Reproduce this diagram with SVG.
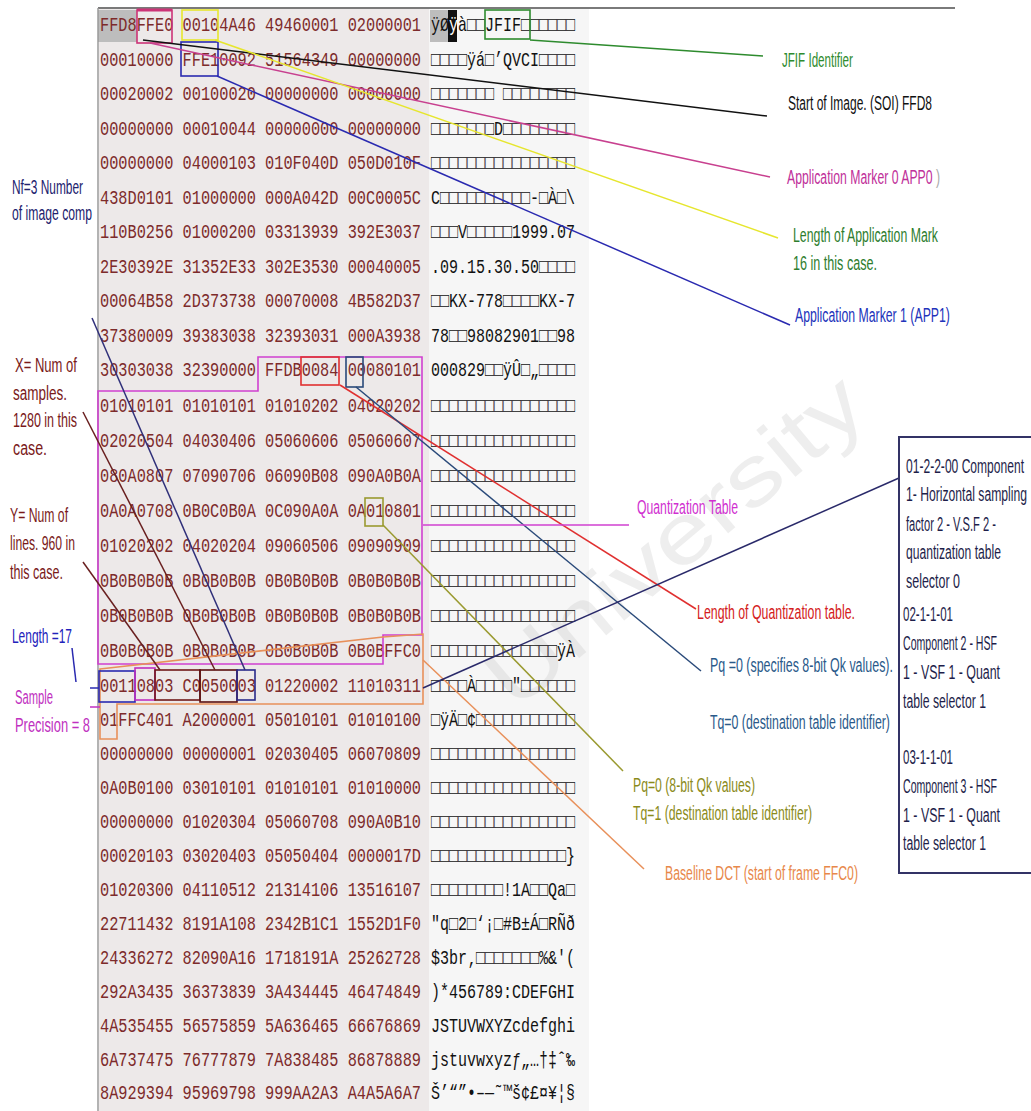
<svg xmlns="http://www.w3.org/2000/svg" width="1031" height="1111" viewBox="0 0 1031 1111">
<style>
.hx{font-family:"Liberation Mono","DejaVu Sans Mono",monospace;font-size:20px;fill:#7d2b2b}
.as{font-family:"Liberation Mono","DejaVu Sans Mono",monospace;font-size:20px;fill:#111}
.lb{font-family:"Liberation Sans","Arial",sans-serif;font-size:20px}
.bx{font-family:"Liberation Sans","Arial",sans-serif;font-size:20px;fill:#1e1e4a}
.mk{fill:none;stroke-width:1.6}
.ln{fill:none;stroke-width:1.5}
.wm{font-family:"Liberation Sans","Arial",sans-serif;font-size:84px;fill:#c8c8c8;opacity:0.3}
</style>
<rect x="0" y="0" width="1031" height="1111" fill="#ffffff"/>
<g id="dump-background">
<rect x="99" y="9" width="330" height="1102" fill="#ede9e9"/>
<rect x="429" y="9" width="160" height="1102" fill="#f6f6f6"/>
<rect x="98" y="10" width="39" height="32" fill="#bdbdbd"/>
<rect x="430" y="10" width="18" height="32" fill="#bdbdbd"/>
<rect x="448" y="10" width="9" height="32" fill="#111"/>
<line x1="98" y1="8" x2="955" y2="8" stroke="#7a7a7a" stroke-width="2"/>
<line x1="98" y1="8" x2="98" y2="1111" stroke="#9a9a9a" stroke-width="1.5"/>
</g>
<g id="watermark">
<text class="wm" transform="translate(515,712) rotate(-40)" textLength="465" lengthAdjust="spacingAndGlyphs">University</text>
</g>
<g id="hex-column">
<text class="hx" transform="scale(0.7643,1)" x="130.84" y="31.5" textLength="420" lengthAdjust="spacingAndGlyphs">FFD8FFE0 00104A46 49460001 02000001</text>
<text class="hx" transform="scale(0.7643,1)" x="130.84" y="66" textLength="420" lengthAdjust="spacingAndGlyphs">00010000 FFE10092 51564349 00000000</text>
<text class="hx" transform="scale(0.7643,1)" x="130.84" y="100.5" textLength="420" lengthAdjust="spacingAndGlyphs">00020002 00100020 00000000 00000000</text>
<text class="hx" transform="scale(0.7643,1)" x="130.84" y="135" textLength="420" lengthAdjust="spacingAndGlyphs">00000000 00010044 00000000 00000000</text>
<text class="hx" transform="scale(0.7643,1)" x="130.84" y="169.5" textLength="420" lengthAdjust="spacingAndGlyphs">00000000 04000103 010F040D 050D010F</text>
<text class="hx" transform="scale(0.7643,1)" x="130.84" y="204" textLength="420" lengthAdjust="spacingAndGlyphs">438D0101 01000000 000A042D 00C0005C</text>
<text class="hx" transform="scale(0.7643,1)" x="130.84" y="238.5" textLength="420" lengthAdjust="spacingAndGlyphs">110B0256 01000200 03313939 392E3037</text>
<text class="hx" transform="scale(0.7643,1)" x="130.84" y="273" textLength="420" lengthAdjust="spacingAndGlyphs">2E30392E 31352E33 302E3530 00040005</text>
<text class="hx" transform="scale(0.7643,1)" x="130.84" y="307.5" textLength="420" lengthAdjust="spacingAndGlyphs">00064B58 2D373738 00070008 4B582D37</text>
<text class="hx" transform="scale(0.7643,1)" x="130.84" y="342" textLength="420" lengthAdjust="spacingAndGlyphs">37380009 39383038 32393031 000A3938</text>
<text class="hx" transform="scale(0.7643,1)" x="130.84" y="376.5" textLength="420" lengthAdjust="spacingAndGlyphs">30303038 32390000 FFDB0084 00080101</text>
<text class="hx" transform="scale(0.7643,1)" x="130.84" y="411.6" textLength="420" lengthAdjust="spacingAndGlyphs">01010101 01010101 01010202 04020202</text>
<text class="hx" transform="scale(0.7643,1)" x="130.84" y="446.7" textLength="420" lengthAdjust="spacingAndGlyphs">02020504 04030406 05060606 05060607</text>
<text class="hx" transform="scale(0.7643,1)" x="130.84" y="481.8" textLength="420" lengthAdjust="spacingAndGlyphs">080A0807 07090706 06090B08 090A0B0A</text>
<text class="hx" transform="scale(0.7643,1)" x="130.84" y="516.9" textLength="420" lengthAdjust="spacingAndGlyphs">0A0A0708 0B0C0B0A 0C090A0A 0A010801</text>
<text class="hx" transform="scale(0.7643,1)" x="130.84" y="552.1" textLength="420" lengthAdjust="spacingAndGlyphs">01020202 04020204 09060506 09090909</text>
<text class="hx" transform="scale(0.7643,1)" x="130.84" y="587.2" textLength="420" lengthAdjust="spacingAndGlyphs">0B0B0B0B 0B0B0B0B 0B0B0B0B 0B0B0B0B</text>
<text class="hx" transform="scale(0.7643,1)" x="130.84" y="622.3" textLength="420" lengthAdjust="spacingAndGlyphs">0B0B0B0B 0B0B0B0B 0B0B0B0B 0B0B0B0B</text>
<text class="hx" transform="scale(0.7643,1)" x="130.84" y="657.4" textLength="420" lengthAdjust="spacingAndGlyphs">0B0B0B0B 0B0B0B0B 0B0B0B0B 0B0BFFC0</text>
<text class="hx" transform="scale(0.7643,1)" x="130.84" y="692.5" textLength="420" lengthAdjust="spacingAndGlyphs">00110803 C0050003 01220002 11010311</text>
<text class="hx" transform="scale(0.7643,1)" x="130.84" y="726.4" textLength="420" lengthAdjust="spacingAndGlyphs">01FFC401 A2000001 05010101 01010100</text>
<text class="hx" transform="scale(0.7643,1)" x="130.84" y="760.3" textLength="420" lengthAdjust="spacingAndGlyphs">00000000 00000001 02030405 06070809</text>
<text class="hx" transform="scale(0.7643,1)" x="130.84" y="794.3" textLength="420" lengthAdjust="spacingAndGlyphs">0A0B0100 03010101 01010101 01010000</text>
<text class="hx" transform="scale(0.7643,1)" x="130.84" y="828.2" textLength="420" lengthAdjust="spacingAndGlyphs">00000000 01020304 05060708 090A0B10</text>
<text class="hx" transform="scale(0.7643,1)" x="130.84" y="862.1" textLength="420" lengthAdjust="spacingAndGlyphs">00020103 03020403 05050404 0000017D</text>
<text class="hx" transform="scale(0.7643,1)" x="130.84" y="896" textLength="420" lengthAdjust="spacingAndGlyphs">01020300 04110512 21314106 13516107</text>
<text class="hx" transform="scale(0.7643,1)" x="130.84" y="929.9" textLength="420" lengthAdjust="spacingAndGlyphs">22711432 8191A108 2342B1C1 1552D1F0</text>
<text class="hx" transform="scale(0.7643,1)" x="130.84" y="963.8" textLength="420" lengthAdjust="spacingAndGlyphs">24336272 82090A16 1718191A 25262728</text>
<text class="hx" transform="scale(0.7643,1)" x="130.84" y="997.8" textLength="420" lengthAdjust="spacingAndGlyphs">292A3435 36373839 3A434445 46474849</text>
<text class="hx" transform="scale(0.7643,1)" x="130.84" y="1031.7" textLength="420" lengthAdjust="spacingAndGlyphs">4A535455 56575859 5A636465 66676869</text>
<text class="hx" transform="scale(0.7643,1)" x="130.84" y="1065.6" textLength="420" lengthAdjust="spacingAndGlyphs">6A737475 76777879 7A838485 86878889</text>
<text class="hx" transform="scale(0.7643,1)" x="130.84" y="1099.5" textLength="420" lengthAdjust="spacingAndGlyphs">8A929394 95969798 999AA2A3 A4A5A6A7</text>
</g>
<g id="ascii-column">
<text class="as" transform="scale(0.75,1)" x="574.67" y="31.5" textLength="192" lengthAdjust="spacingAndGlyphs">ÿØ<tspan style="fill:#ffffff">ÿ</tspan>à□□JFIF□□□□□□</text>
<text class="as" transform="scale(0.75,1)" x="574.67" y="66" textLength="192" lengthAdjust="spacingAndGlyphs">□□□□ÿá□’QVCI□□□□</text>
<text class="as" transform="scale(0.75,1)" x="574.67" y="100.5" textLength="192" lengthAdjust="spacingAndGlyphs">□□□□□□□ □□□□□□□□</text>
<text class="as" transform="scale(0.75,1)" x="574.67" y="135" textLength="192" lengthAdjust="spacingAndGlyphs">□□□□□□□D□□□□□□□□</text>
<text class="as" transform="scale(0.75,1)" x="574.67" y="169.5" textLength="192" lengthAdjust="spacingAndGlyphs">□□□□□□□□□□□□□□□□</text>
<text class="as" transform="scale(0.75,1)" x="574.67" y="204" textLength="192" lengthAdjust="spacingAndGlyphs">C□□□□□□□□□□-□À□\</text>
<text class="as" transform="scale(0.75,1)" x="574.67" y="238.5" textLength="192" lengthAdjust="spacingAndGlyphs">□□□V□□□□□1999.07</text>
<text class="as" transform="scale(0.75,1)" x="574.67" y="273" textLength="192" lengthAdjust="spacingAndGlyphs">.09.15.30.50□□□□</text>
<text class="as" transform="scale(0.75,1)" x="574.67" y="307.5" textLength="192" lengthAdjust="spacingAndGlyphs">□□KX-778□□□□KX-7</text>
<text class="as" transform="scale(0.75,1)" x="574.67" y="342" textLength="192" lengthAdjust="spacingAndGlyphs">78□□98082901□□98</text>
<text class="as" transform="scale(0.75,1)" x="574.67" y="376.5" textLength="192" lengthAdjust="spacingAndGlyphs">000829□□ÿÛ□„□□□□</text>
<text class="as" transform="scale(0.75,1)" x="574.67" y="411.6" textLength="192" lengthAdjust="spacingAndGlyphs">□□□□□□□□□□□□□□□□</text>
<text class="as" transform="scale(0.75,1)" x="574.67" y="446.7" textLength="192" lengthAdjust="spacingAndGlyphs">□□□□□□□□□□□□□□□□</text>
<text class="as" transform="scale(0.75,1)" x="574.67" y="481.8" textLength="192" lengthAdjust="spacingAndGlyphs">□□□□□□□□□□□□□□□□</text>
<text class="as" transform="scale(0.75,1)" x="574.67" y="516.9" textLength="192" lengthAdjust="spacingAndGlyphs">□□□□□□□□□□□□□□□□</text>
<text class="as" transform="scale(0.75,1)" x="574.67" y="552.1" textLength="192" lengthAdjust="spacingAndGlyphs">□□□□□□□□□□□□□□□□</text>
<text class="as" transform="scale(0.75,1)" x="574.67" y="587.2" textLength="192" lengthAdjust="spacingAndGlyphs">□□□□□□□□□□□□□□□□</text>
<text class="as" transform="scale(0.75,1)" x="574.67" y="622.3" textLength="192" lengthAdjust="spacingAndGlyphs">□□□□□□□□□□□□□□□□</text>
<text class="as" transform="scale(0.75,1)" x="574.67" y="657.4" textLength="192" lengthAdjust="spacingAndGlyphs">□□□□□□□□□□□□□□ÿÀ</text>
<text class="as" transform="scale(0.75,1)" x="574.67" y="692.5" textLength="192" lengthAdjust="spacingAndGlyphs">□□□□À□□□□"□□□□□□</text>
<text class="as" transform="scale(0.75,1)" x="574.67" y="726.4" textLength="192" lengthAdjust="spacingAndGlyphs">□ÿÄ□¢□□□□□□□□□□□</text>
<text class="as" transform="scale(0.75,1)" x="574.67" y="760.3" textLength="192" lengthAdjust="spacingAndGlyphs">□□□□□□□□□□□□□□□□</text>
<text class="as" transform="scale(0.75,1)" x="574.67" y="794.3" textLength="192" lengthAdjust="spacingAndGlyphs">□□□□□□□□□□□□□□□□</text>
<text class="as" transform="scale(0.75,1)" x="574.67" y="828.2" textLength="192" lengthAdjust="spacingAndGlyphs">□□□□□□□□□□□□□□□□</text>
<text class="as" transform="scale(0.75,1)" x="574.67" y="862.1" textLength="192" lengthAdjust="spacingAndGlyphs">□□□□□□□□□□□□□□□}</text>
<text class="as" transform="scale(0.75,1)" x="574.67" y="896" textLength="192" lengthAdjust="spacingAndGlyphs">□□□□□□□□!1A□□Qa□</text>
<text class="as" transform="scale(0.75,1)" x="574.67" y="929.9" textLength="192" lengthAdjust="spacingAndGlyphs">"q□2□‘¡□#B±Á□RÑð</text>
<text class="as" transform="scale(0.75,1)" x="574.67" y="963.8" textLength="192" lengthAdjust="spacingAndGlyphs">$3br‚□□□□□□□%&amp;'(</text>
<text class="as" transform="scale(0.75,1)" x="574.67" y="997.8" textLength="192" lengthAdjust="spacingAndGlyphs">)*456789:CDEFGHI</text>
<text class="as" transform="scale(0.75,1)" x="574.67" y="1031.7" textLength="192" lengthAdjust="spacingAndGlyphs">JSTUVWXYZcdefghi</text>
<text class="as" transform="scale(0.75,1)" x="574.67" y="1065.6" textLength="192" lengthAdjust="spacingAndGlyphs">jstuvwxyzƒ„…†‡ˆ‰</text>
<text class="as" transform="scale(0.75,1)" x="574.67" y="1099.5" textLength="192" lengthAdjust="spacingAndGlyphs">Š’“”•–—˜™š¢£¤¥¦§</text>
</g>
<g id="markers">
<rect id="box-app0" class="mk" x="137" y="10" width="35" height="33" stroke="#cc3377"/>
<line x1="137" y1="10" x2="172" y2="10" stroke="#cc3377" stroke-width="3"/>
<rect id="box-len" class="mk" x="182" y="10" width="36" height="30" stroke="#e6e62e"/>
<rect id="box-jfif" class="mk" x="485" y="10" width="45" height="29" stroke="#2e8b2e"/>
<rect id="box-app1" class="mk" x="181" y="42" width="37" height="34" stroke="#2a2ab0"/>
<polygon id="box-dqt" class="mk" points="98,391 258,391 258,357 422,357 422,635 383,635 383,664 98,664" stroke="#d040d0"/>
<rect id="box-lq" class="mk" x="301" y="357" width="38" height="28" stroke="#e03030"/>
<rect id="box-pq0" class="mk" x="346" y="357" width="17" height="30" stroke="#2a4a7a"/>
<rect id="box-pq1" class="mk" x="365" y="498" width="18" height="28" stroke="#9a9a30"/>
<polygon id="box-sof0" class="mk" points="100,669 383,637 423,634 423,704 117,704 117,739 100,739" stroke="#e8905a"/>
<rect id="box-length17" class="mk" x="99" y="671" width="36" height="31" stroke="#2a2ab0" stroke-width="2"/>
<rect id="box-precision" class="mk" x="135" y="668" width="20" height="32" stroke="#c030c0"/>
<rect id="box-y" class="mk" x="155" y="670" width="45" height="30" stroke="#701818" stroke-width="2"/>
<rect id="box-x" class="mk" x="200" y="670" width="37" height="32" stroke="#5a1010" stroke-width="2"/>
<rect id="box-nf" class="mk" x="237" y="670" width="18" height="30" stroke="#2a2a8a"/>
</g>
<g id="connectors">
<line class="ln" x1="530" y1="40" x2="763" y2="56" stroke="#2e8b2e"/>
<line class="ln" x1="143" y1="40" x2="767" y2="116" stroke="#111" stroke-width="2"/>
<line class="ln" x1="150" y1="43" x2="770" y2="177" stroke="#c8408f"/>
<line class="ln" x1="215" y1="40" x2="778" y2="238" stroke="#e6e62e" stroke-width="2"/>
<line class="ln" x1="217" y1="76" x2="790" y2="325" stroke="#2a2ab0"/>
<line class="ln" x1="340" y1="385" x2="696" y2="609" stroke="#e03030"/>
<line class="ln" x1="356" y1="387" x2="701" y2="671" stroke="#2a4a7a"/>
<line class="ln" x1="383" y1="525" x2="623" y2="771" stroke="#9a9a30"/>
<line class="ln" x1="423" y1="525" x2="629" y2="525" stroke="#d040d0" stroke-width="2"/>
<line class="ln" x1="423" y1="660" x2="644" y2="869" stroke="#e8905a"/>
<line class="ln" x1="423" y1="688" x2="899" y2="478" stroke="#2a2a6a" stroke-width="2"/>
<line class="ln" x1="92" y1="318" x2="245" y2="670" stroke="#30307a" stroke-width="1.2"/>
<line class="ln" x1="83" y1="412" x2="215" y2="670" stroke="#6a2020" stroke-width="1.2"/>
<line class="ln" x1="83" y1="562" x2="160" y2="670" stroke="#6a2020" stroke-width="1.2"/>
<line class="ln" x1="72" y1="648" x2="76" y2="682" stroke="#2a2ab0"/>
<line class="ln" x1="90" y1="688" x2="99" y2="688" stroke="#2a2ab0"/>
<line class="ln" x1="90" y1="707" x2="100" y2="707" stroke="#c030c0"/>
</g>
<g id="label-jfif"><text class="lb" transform="scale(0.6,1)" x="1303.3" y="67" textLength="118.3" lengthAdjust="spacingAndGlyphs" fill="#2e8b2e">JFIF Identifier</text></g>
<g id="label-soi"><text class="lb" transform="scale(0.6,1)" x="1313.3" y="110" textLength="240" lengthAdjust="spacingAndGlyphs" fill="#111">Start of Image. (SOI) FFD8</text></g>
<g id="label-app0"><text class="lb" transform="scale(0.6,1)" x="1311.7" y="184" textLength="255" lengthAdjust="spacingAndGlyphs" fill="#c0309a">Application Marker 0 APP0 <tspan fill="#aaaaaa">)</tspan></text></g>
<g id="label-length-app"><text class="lb" transform="scale(0.6,1)" x="1321.7" y="242" textLength="241.7" lengthAdjust="spacingAndGlyphs" fill="#2e7d2e">Length of Application Mark</text><text class="lb" transform="scale(0.6,1)" x="1321.7" y="270" textLength="140" lengthAdjust="spacingAndGlyphs" fill="#2e7d2e">16 in this case.</text></g>
<g id="label-app1"><text class="lb" transform="scale(0.6,1)" x="1325" y="322" textLength="258.3" lengthAdjust="spacingAndGlyphs" fill="#2233bb">Application Marker 1 (APP1)</text></g>
<g id="label-qt"><text class="lb" transform="scale(0.6,1)" x="1061.7" y="514" textLength="168.3" lengthAdjust="spacingAndGlyphs" fill="#d030d0">Quantization Table</text></g>
<g id="label-lq"><text class="lb" transform="scale(0.6,1)" x="1161.7" y="619" textLength="263.3" lengthAdjust="spacingAndGlyphs" fill="#d42020">Length of Quantization table.</text></g>
<g id="label-pq0"><text class="lb" transform="scale(0.6,1)" x="1183.3" y="672" textLength="305" lengthAdjust="spacingAndGlyphs" fill="#2a5a8a">Pq =0 (specifies 8-bit Qk values).</text><text class="lb" transform="scale(0.6,1)" x="1183.3" y="729" textLength="300" lengthAdjust="spacingAndGlyphs" fill="#2a5a8a">Tq=0 (destination table identifier)</text></g>
<g id="label-pq1"><text class="lb" transform="scale(0.6,1)" x="1055" y="792" textLength="203.3" lengthAdjust="spacingAndGlyphs" fill="#8b8b1a">Pq=0 (8-bit Qk values)</text><text class="lb" transform="scale(0.6,1)" x="1055" y="820" textLength="298.3" lengthAdjust="spacingAndGlyphs" fill="#8b8b1a">Tq=1 (destination table identifier)</text></g>
<g id="label-sof0"><text class="lb" transform="scale(0.6,1)" x="1108.3" y="880" textLength="321.7" lengthAdjust="spacingAndGlyphs" fill="#e8884a">Baseline DCT (start of frame FFC0)</text></g>
<g id="components-box">
<rect x="899" y="437" width="140" height="436" fill="#ffffff" stroke="#333366" stroke-width="2"/>
<text class="bx" transform="scale(0.6,1)" x="1510" y="473" textLength="196.7" lengthAdjust="spacingAndGlyphs">01-2-2-00 Component</text>
<text class="bx" transform="scale(0.6,1)" x="1510" y="501" textLength="201.7" lengthAdjust="spacingAndGlyphs">1- Horizontal sampling</text>
<text class="bx" transform="scale(0.6,1)" x="1510" y="531" textLength="150" lengthAdjust="spacingAndGlyphs">factor 2 - V.S.F 2 -</text>
<text class="bx" transform="scale(0.6,1)" x="1510" y="559" textLength="158.3" lengthAdjust="spacingAndGlyphs">quantization table</text>
<text class="bx" transform="scale(0.6,1)" x="1510" y="588" textLength="90" lengthAdjust="spacingAndGlyphs">selector 0</text>
<text class="bx" transform="scale(0.6,1)" x="1505" y="621" textLength="83.3" lengthAdjust="spacingAndGlyphs">02-1-1-01</text>
<text class="bx" transform="scale(0.6,1)" x="1505" y="650" textLength="156.7" lengthAdjust="spacingAndGlyphs">Component 2 - HSF</text>
<text class="bx" transform="scale(0.6,1)" x="1505" y="679" textLength="161.7" lengthAdjust="spacingAndGlyphs">1 - VSF 1 - Quant</text>
<text class="bx" transform="scale(0.6,1)" x="1505" y="708" textLength="138.3" lengthAdjust="spacingAndGlyphs">table selector 1</text>
<text class="bx" transform="scale(0.6,1)" x="1505" y="764" textLength="83.3" lengthAdjust="spacingAndGlyphs">03-1-1-01</text>
<text class="bx" transform="scale(0.6,1)" x="1505" y="793" textLength="156.7" lengthAdjust="spacingAndGlyphs">Component 3 - HSF</text>
<text class="bx" transform="scale(0.6,1)" x="1505" y="822" textLength="161.7" lengthAdjust="spacingAndGlyphs">1 - VSF 1 - Quant</text>
<text class="bx" transform="scale(0.6,1)" x="1505" y="850" textLength="138.3" lengthAdjust="spacingAndGlyphs">table selector 1</text>
</g>
<g id="label-nf"><text class="lb" transform="scale(0.6,1)" x="20" y="194" textLength="118.3" lengthAdjust="spacingAndGlyphs" fill="#22226e">Nf=3 Number</text><text class="lb" transform="scale(0.6,1)" x="20" y="220" textLength="133.3" lengthAdjust="spacingAndGlyphs" fill="#22226e">of image comp</text></g>
<g id="label-x"><text class="lb" transform="scale(0.6,1)" x="25" y="372" textLength="103.3" lengthAdjust="spacingAndGlyphs" fill="#7a1a1a">X= Num of</text><text class="lb" transform="scale(0.6,1)" x="21.7" y="400" textLength="90" lengthAdjust="spacingAndGlyphs" fill="#7a1a1a">samples.</text><text class="lb" transform="scale(0.6,1)" x="21.7" y="427" textLength="106.7" lengthAdjust="spacingAndGlyphs" fill="#7a1a1a">1280 in this</text><text class="lb" transform="scale(0.6,1)" x="21.7" y="455" textLength="56.7" lengthAdjust="spacingAndGlyphs" fill="#7a1a1a">case.</text></g>
<g id="label-y"><text class="lb" transform="scale(0.6,1)" x="16.7" y="522" textLength="96.7" lengthAdjust="spacingAndGlyphs" fill="#7a1a1a">Y= Num of</text><text class="lb" transform="scale(0.6,1)" x="16.7" y="550" textLength="108.3" lengthAdjust="spacingAndGlyphs" fill="#7a1a1a">lines. 960 in</text><text class="lb" transform="scale(0.6,1)" x="16.7" y="579" textLength="88.3" lengthAdjust="spacingAndGlyphs" fill="#7a1a1a">this case.</text></g>
<g id="label-length17"><text class="lb" transform="scale(0.6,1)" x="20" y="643" textLength="100" lengthAdjust="spacingAndGlyphs" fill="#2222bb">Length =17</text></g>
<g id="label-precision"><text class="lb" transform="scale(0.6,1)" x="25" y="704" textLength="63.3" lengthAdjust="spacingAndGlyphs" fill="#c030c0">Sample</text><text class="lb" transform="scale(0.6,1)" x="25" y="732" textLength="125" lengthAdjust="spacingAndGlyphs" fill="#c030c0">Precision = 8</text></g>
</svg>
